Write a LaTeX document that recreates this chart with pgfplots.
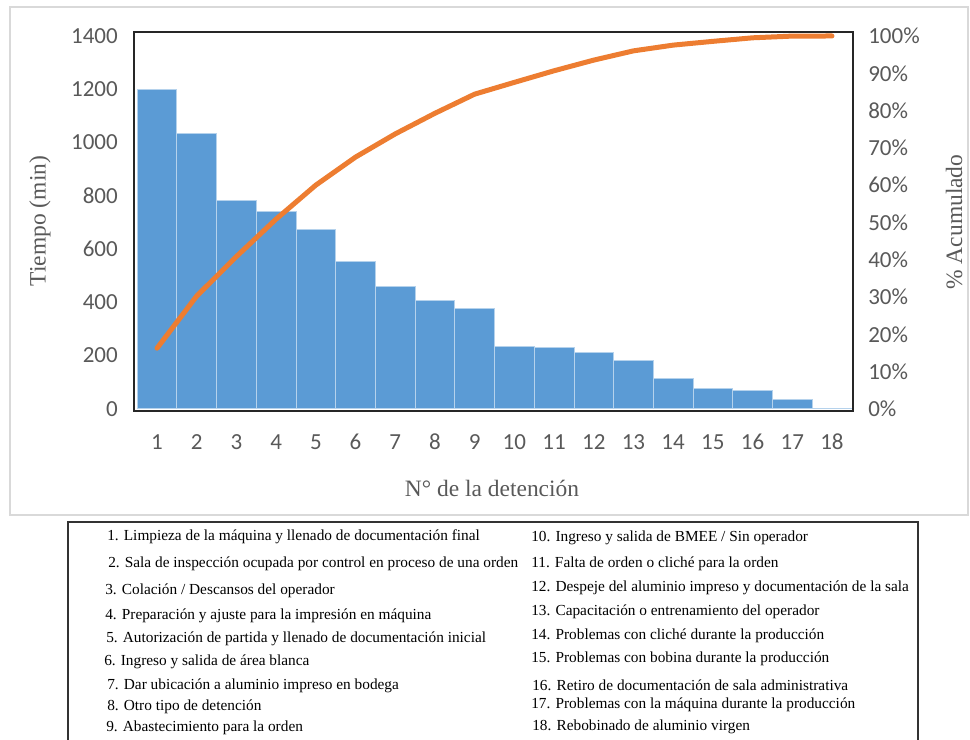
\documentclass[border=0pt]{standalone}
\usepackage{pgfplots}
\pgfplotsset{compat=1.18}
\usepackage{fontspec}
\setmainfont{Liberation Serif}
\newfontfamily\calibri{Carlito}

\definecolor{barblue}{HTML}{5B9BD5}
\definecolor{lineorange}{HTML}{ED7D31}
\definecolor{txtgray}{HTML}{595959}
\definecolor{framegray}{HTML}{D9D9D9}

\pgfplotsset{
  paretobase/.style={
    at={(100.5pt,246pt)}, anchor=south west,
    scale only axis, width=539.25pt, height=284.25pt,
    xmin=0.42, xmax=18.53,
    major tick length=0pt,
    tick label style={font=\calibri\fontsize{17.25}{20}\selectfont, text=txtgray, inner sep=0pt},
    /pgf/number format/1000 sep={},
  }
}

\begin{document}
\begin{tikzpicture}[x=0.75pt,y=0.75pt]
\useasboundingbox (0,0) rectangle (970,739);
% chart frame
\draw[framegray, line width=0.9pt] (10,732) rectangle (968,224);

% downtime per cause (minutes)
\begin{axis}[paretobase,
  ymin=-8, ymax=1415,
  xtick={1,...,18}, ytick={0,200,...,1400},
  xticklabel style={anchor=north, yshift=-17.25pt},
  yticklabel style={anchor=east, xshift=-12pt},
  axis line style={black!85, line width=1pt},
  /pgf/number format/assume math mode=true,
]
\addplot[ybar, bar width=1, fill=barblue, draw=white!55!barblue, line width=0.6pt]
  coordinates {
  (1,1200) (2,1033) (3,781) (4,741) (5,672) (6,554) (7,459) (8,408) (9,378)
  (10,233) (11,230) (12,211) (13,183) (14,113) (15,75) (16,70) (17,34) (18,0)
  };
\end{axis}

% cumulative percentage
\begin{axis}[paretobase,
  ymin=-0.571, ymax=101.07,
  axis x line=none, axis y line*=right,
  axis line style={draw=none},
  ytick={0,10,...,100},
  yticklabel={\pgfmathprintnumber{\tick}\%},
  yticklabel style={anchor=west, xshift=11.25pt},
  /pgf/number format/assume math mode=true,
]
\addplot[lineorange, line width=3.75pt, line join=round, line cap=round]
  coordinates {
  (1,16.27) (2,30.27) (3,40.86) (4,50.90) (5,60.01) (6,67.52) (7,73.74)
  (8,79.27) (9,84.40) (10,87.56) (11,90.67) (12,93.53) (13,96.01) (14,97.55)
  (15,98.56) (16,99.51) (17,99.97) (18,100)
  };
\end{axis}

% axis titles
\begin{scope}[every node/.style={text=txtgray, font=\fontsize{17.6}{20}\selectfont, inner sep=0pt}]
\node[rotate=90] at (40,518) {Tiempo (min)};
\node at (492,251) {N° de la detención};
\node[rotate=90] at (954,517) {\% Acumulado};
\end{scope}

% list of causes
\draw[black!80, line width=0.8pt] (68,-1) -- (68,217) -- (918,217) -- (918,-1);
\begin{scope}[every node/.style={anchor=west, inner sep=0pt, font=\fontsize{11.5}{14}\selectfont}]
\node at (107,202) {1. Limpieza de la máquina y llenado de documentación final};
\node at (108,175) {2. Sala de inspección ocupada por control en proceso de una orden};
\node at (105,148) {3. Colación / Descansos del operador};
\node at (105,123) {4. Preparación y ajuste para la impresión en máquina};
\node at (106,100) {5. Autorización de partida y llenado de documentación inicial};
\node at (104,77) {6. Ingreso y salida de área blanca};
\node at (107,53) {7. Dar ubicación a aluminio impreso en bodega};
\node at (107,32) {8. Otro tipo de detención};
\node at (106,11) {9. Abastecimiento para la orden};
\node at (531,201) {10. Ingreso y salida de BMEE / Sin operador};
\node at (531,175) {11. Falta de orden o cliché para la orden};
\node at (531,151) {12. Despeje del aluminio impreso y documentación de la sala};
\node at (531,127) {13. Capacitación o entrenamiento del operador};
\node at (531,103) {14. Problemas con cliché durante la producción};
\node at (531,80) {15. Problemas con bobina durante la producción};
\node at (532,54) {16. Retiro de documentación de sala administrativa};
\node at (531,34) {17. Problemas con la máquina durante la producción};
\node at (532,12) {18. Rebobinado de aluminio virgen};
\end{scope}
\end{tikzpicture}
\end{document}
